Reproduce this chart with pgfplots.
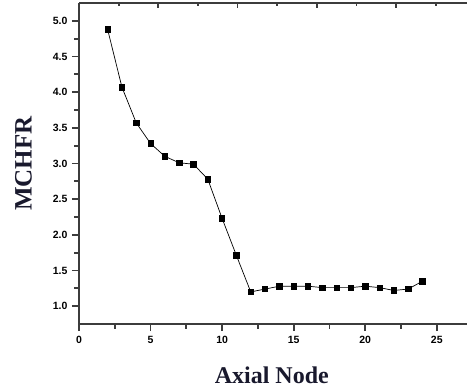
\documentclass[border=0pt]{standalone}
\usepackage{fontspec}
\setmainfont{Liberation Serif}
\newfontfamily\tickfont{Liberation Sans}
\usepackage{pgfplots}
\pgfplotsset{compat=1.18}
\definecolor{axgray}{RGB}{60,60,60}
\definecolor{labcol}{RGB}{25,25,45}
\begin{document}
\begin{tikzpicture}
\useasboundingbox (-79pt,-65pt) rectangle (388pt,324pt);
\begin{axis}[
  at={(0pt,0pt)}, anchor=south west,
  scale only axis, width=388pt, height=321pt,
  xmin=0, xmax=27.11, ymin=0.75, ymax=5.25,
  axis x line*=bottom, axis y line*=left,
  axis line style={axgray, line width=1.8pt, -},
  xtick={0,5,10,15,20,25}, minor xtick={2.5,7.5,12.5,17.5,22.5},
  ytick={1,1.5,2,2.5,3,3.5,4,4.5,5},
  minor ytick={1.25,1.75,2.25,2.75,3.25,3.75,4.25,4.75},
  xticklabels={0,5,10,15,20,25},
  yticklabels={1.0,1.5,2.0,2.5,3.0,3.5,4.0,4.5,5.0},
  tick align=outside,
  major tick length=7pt, minor tick length=4.5pt,
  every tick/.style={axgray, line width=1.8pt},
  major tick style={axgray, line width=1.8pt},
  minor tick style={axgray, line width=1.8pt},
  tick label style={font=\tickfont\bfseries\fontsize{10.5}{12}\selectfont, text=black},
  xticklabel style={yshift=-2pt},
  yticklabel style={xshift=-1pt},
  xlabel={Axial Node}, ylabel={MCHFR},
  xlabel style={at={(axis description cs:0.497,-0.159)}, anchor=center, font=\bfseries\fontsize{24}{27}\selectfont, text=labcol},
  ylabel style={at={(axis description cs:-0.143,0.5)}, anchor=center, rotate=0, font=\bfseries\fontsize{25}{28}\selectfont, text=labcol},
  clip=false,
]
\addplot[black, line width=0.7pt, mark=square*, mark size=2.7pt, mark options={solid, fill=black}] coordinates {
(2,4.88) (3,4.07) (4,3.57) (5,3.28) (6,3.10) (7,3.01) (8,2.99) (9,2.78)
(10,2.23) (11,1.71) (12,1.20) (13,1.24) (14,1.28) (15,1.28) (16,1.28)
(17,1.26) (18,1.26) (19,1.26) (20,1.28) (21,1.26) (22,1.22) (23,1.24) (24,1.35)
};
\end{axis}
\begin{axis}[
  at={(0pt,0pt)}, anchor=south west,
  scale only axis, width=388pt, height=321pt,
  xmin=0, xmax=27.11, ymin=0.75, ymax=5.25,
  axis x line*=top, axis y line=none,
  axis line style={axgray, line width=1.8pt, -},
  xtick={0,5.54,11.08,16.62,22.16}, minor xtick={2.77,8.31,13.85,19.39,24.93},
  xticklabels={},
  tick align=inside,
  major tick length=5.5pt, minor tick length=3.5pt,
  every tick/.style={axgray, line width=1.8pt},
  major tick style={axgray, line width=1.8pt},
  minor tick style={axgray, line width=1.8pt},
]
\end{axis}
\end{tikzpicture}
\end{document}
